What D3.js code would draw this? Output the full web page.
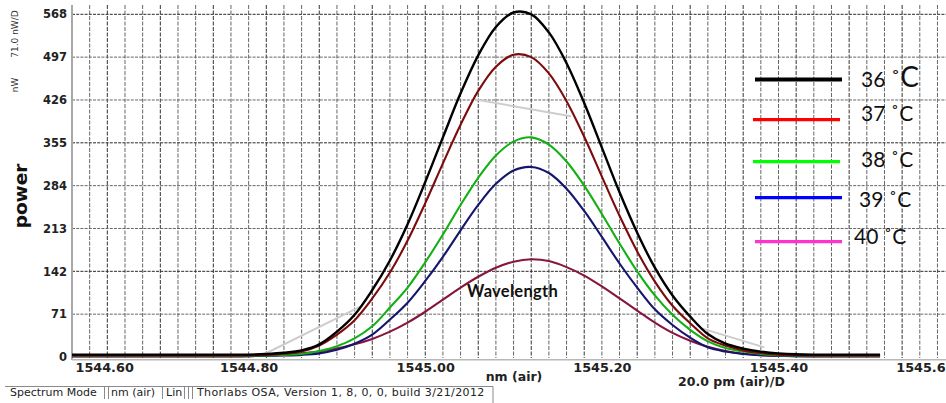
<!DOCTYPE html>
<html><head><meta charset="utf-8">
<script src="https://cdn.jsdelivr.net/npm/d3@7"></script>
<style>
html,body{margin:0;padding:0;background:#fff;overflow:hidden;}
svg{display:block;}
</style></head><body>
<svg id="chart" width="946" height="403"></svg>
<script>
// ---------------- data ----------------
const wavelength = [1544.60,1544.62,1544.64,1544.66,1544.68,1544.70,1544.72,1544.74,1544.76,1544.78,
  1544.80,1544.82,1544.84,1544.86,1544.88,1544.90,1544.92,1544.94,1544.96,1544.98,
  1545.00,1545.02,1545.04,1545.06,1545.08,1545.10,1545.12,1545.14,1545.16,1545.18,
  1545.20,1545.22,1545.24,1545.26,1545.28,1545.30,1545.32,1545.34,1545.36,1545.38,
  1545.40,1545.42,1545.44,1545.46,1545.48,1545.50,1545.515];
const power36 = [4,4,4,4,4,4,4,4,4,4,4,5,7,11,21,42,70,111,160,220,290,364,437,500,547,571,568,538,487,421,347,273,206,148,102,67,38,22,14,9,6,4.5,4,4,4,4,4];
const power37 = [2.5,2.5,2.5,2.5,2.5,2.5,2.5,2.5,2.5,2.5,2.5,3.5,5.5,9,19,37,61,97,140,193,255,321,385,441,481,501,497,470,424,365,299,234,175,125,85,56,31,19,11,6.5,4,3,2.5,2.5,2.5,2.5,2.5];
const power38 = [2,2,2,2,2,2,2,2,2,2,2,2.5,3.5,5,10,18,31,51,82,115,157,203,252,297,334,357,364,352,324,284,237,188,142,102,70,45,26,15,9,5,3,2.5,2,2,2,2,2];
const power39 = [1.5,1.5,1.5,1.5,1.5,1.5,1.5,1.5,1.5,1.5,1.5,2,2.5,3.5,6,12,22,37,62,90,126,166,210,252,287,309,315,305,279,242,199,155,115,79,53,32,16,9,5,3,2,1.5,1.5,1.5,1.5,1.5,1.5];
const power40 = [0.8,0.8,0.8,0.8,0.8,0.8,0.8,0.8,0.8,0.8,1.5,2.5,4,6,9,14,21,30,42,57,75,95,115,133,148,158,162,159,149,135,117,97,77,57,40,27,17,10,5.5,3,2,1.2,0.8,0.8,0.8,0.8,0.8];
const ghostWl  = [1544.818, 1544.927, null, 1545.056, 1545.165, null, 1545.314, 1545.384];
const ghostVal = [5, 84, null, 427, 399, null, 47, 16];
const seriesNames = ["36","37","38","39","40"];
const yTicks = [0,71,142,213,284,355,426,497,568];
const xTickValues = [1544.6,1544.8,1545.0,1545.2,1545.4,1545.6];
const xTickLabels = ["1544.60","1544.80","1545.00","1545.20","1545.40","1545.6"];

// ---------------- styling / layout ----------------
const curveColors  = ["#000000","#7e0b0b","#12b012","#15156e","#86163f"];
const curveWidths  = [2.4,2.1,2.1,2.1,2.1];
const legendColors = ["#000000","#ff0000","#00ff00","#0000ff","#ff33cc"];
const legendLayout = [
  {x1:755,x2:842,y:79.5,w:4,  tx:861,ty:87, cs:28},
  {x1:753,x2:840,y:119.7,w:3.3,tx:861,ty:121,cs:21},
  {x1:753,x2:840,y:161.7,w:3.3,tx:861,ty:167,cs:21},
  {x1:755,x2:842,y:197.7,w:3.3,tx:859,ty:207,cs:21},
  {x1:755,x2:842,y:241.7,w:3.3,tx:854,ty:244,cs:21}
];

const svg = d3.select("#chart");
const x = d3.scaleLinear().domain([1544.6, 1545.4]).range([72, 778.5]);
const y = d3.scaleLinear().domain([0, 568]).range([357, 14.3]);

// gridlines
const gridG = svg.append("g");
const vGrid = d3.range(1, 50).map(k => 1544.6 + 0.02 * k);
gridG.selectAll("line.v").data(vGrid).join("line")
  .attr("x1", d => x(d)).attr("x2", d => x(d))
  .attr("y1", 5).attr("y2", 358)
  .attr("stroke", (d,i) => (i % 3 === 1 ? "#333" : "#666"))
  .attr("stroke-width", 1)
  .attr("stroke-dasharray", "4,1.5");
gridG.selectAll("line.h").data(yTicks.filter(d => d > 0)).join("line")
  .attr("x1", 72).attr("x2", 946)
  .attr("y1", d => y(d)).attr("y2", d => y(d))
  .attr("stroke", (d,i) => (i % 3 === 1 ? "#2a2a2a" : "#666"))
  .attr("stroke-width", 1)
  .attr("stroke-dasharray", "3,1.2");

// axis lines
svg.append("line").attr("x1", 72).attr("x2", 72).attr("y1", 5).attr("y2", 360)
  .attr("stroke", "#a8a8a8").attr("stroke-width", 2);
svg.append("line").attr("x1", 72).attr("x2", 946).attr("y1", 359.8).attr("y2", 359.8)
  .attr("stroke", "#b8b8b8").attr("stroke-width", 1.4);

// y axis labels
const yAxis = d3.axisLeft(y).tickValues(yTicks).tickSize(0).tickPadding(5);
const yg = svg.append("g").attr("transform", "translate(72,0)").call(yAxis);
yg.select(".domain").remove();
yg.selectAll("text").attr("font-family", "DejaVu Sans").attr("font-weight", "bold")
  .attr("font-size", 11.5).attr("fill", "#222");

// x axis labels
const xAxis = d3.axisBottom(x).tickValues(xTickValues)
  .tickFormat((d, i) => xTickLabels[i]).tickSize(0);
const xg = svg.append("g").attr("transform", "translate(0,360)").call(xAxis);
xg.select(".domain").remove();
xg.selectAll("text").attr("dy", null).attr("y", 12)
  .attr("font-family", "DejaVu Sans").attr("font-weight", "bold")
  .attr("font-size", 12.8).attr("fill", "#222")
  .attr("text-anchor", (d, i) => i === 0 ? "start" : (i === xTickValues.length - 1 ? "end" : "middle"))
  .attr("x", (d, i) => i === 0 ? 3 : (i === xTickValues.length - 1 ? -10 : 0));

// axis titles
svg.append("text").attr("x", 514).attr("y", 381).attr("text-anchor", "middle")
  .attr("font-family", "DejaVu Sans").attr("font-weight", "bold").attr("font-size", 12.5)
  .attr("fill", "#222").text("nm (air)");
svg.append("text").attr("x", 678).attr("y", 386)
  .attr("font-family", "DejaVu Sans").attr("font-weight", "bold").attr("font-size", 12.5)
  .attr("fill", "#222").text("20.0 pm (air)/D");
svg.append("text").attr("transform", "translate(27,196) rotate(-90)").attr("text-anchor", "middle")
  .attr("font-family", "DejaVu Sans").attr("font-weight", "bold").attr("font-size", 18.5)
  .attr("fill", "#111").text("power");
svg.append("text").attr("transform", "translate(18,34) rotate(-90)").attr("text-anchor", "middle")
  .attr("font-family", "DejaVu Sans").attr("font-size", 9).attr("fill", "#333").text("71.0 nW/D");
svg.append("text").attr("transform", "translate(18,85) rotate(-90)").attr("text-anchor", "middle")
  .attr("font-family", "DejaVu Sans").attr("font-size", 9).attr("fill", "#333").text("nW");

// ghost (grey) trace
const ghost = ghostWl.map((w, i) => [w, ghostVal[i]]);
svg.append("path").datum(ghost)
  .attr("fill", "none").attr("stroke", "#cdcdcd").attr("stroke-width", 2)
  .attr("d", d3.line().defined(d => d[0] !== null).x(d => x(d[0])).y(d => y(d[1])));

// spectral curves
const allSeries = [power36, power37, power38, power39, power40];
const line = d3.line().x((d, i) => x(wavelength[i])).y(d => y(d))
  .curve(d3.curveCatmullRom.alpha(0.5));
const order = [4, 3, 2, 1, 0];
svg.append("g").selectAll("path").data(order).join("path")
  .attr("fill", "none")
  .attr("stroke", k => curveColors[k])
  .attr("stroke-width", k => curveWidths[k])
  .attr("stroke-linejoin", "round")
  .attr("d", k => line(allSeries[k]));

// annotation
svg.append("text").attr("x", 467).attr("y", 297)
  .attr("font-family", "Lato").attr("font-weight", "bold").attr("font-size", 16.5)
  .attr("letter-spacing", 0.3).attr("fill", "#111").text("Wavelength");

// legend
const lg = svg.append("g");
seriesNames.forEach((name, i) => {
  const L = legendLayout[i];
  lg.append("line").attr("x1", L.x1).attr("x2", L.x2).attr("y1", L.y).attr("y2", L.y)
    .attr("stroke", legendColors[i]).attr("stroke-width", L.w);
  const t = lg.append("text").attr("x", L.tx).attr("y", L.ty)
    .attr("font-family", "Lato").attr("font-size", 21).attr("fill", "#111");
  t.append("tspan").text(name + " ");
  t.append("tspan").attr("font-size", L.cs === 28 ? 24 : 21).text("˚");
  t.append("tspan").attr("font-size", L.cs).text("C");
});

// status bar
const sb = svg.append("g");
sb.append("line").attr("x1", 5).attr("x2", 493).attr("y1", 386.5).attr("y2", 386.5)
  .attr("stroke", "#8a8a8a").attr("stroke-width", 1);
sb.append("line").attr("x1", 493).attr("x2", 493).attr("y1", 386.5).attr("y2", 403)
  .attr("stroke", "#8a8a8a").attr("stroke-width", 1);
[104.5, 108.5, 162.5, 184.5, 188.5, 192.5].forEach(px => {
  sb.append("line").attr("x1", px).attr("x2", px).attr("y1", 387).attr("y2", 399)
    .attr("stroke", "#8a8a8a").attr("stroke-width", 1);
});
const statusTexts = [["Spectrum Mode", 10, 0], ["nm (air)", 111, 0], ["Lin", 166, 0],
  ["Thorlabs OSA, Version 1, 8, 0, 0, build 3/21/2012", 197, 0.4]];
statusTexts.forEach(([s, px, ls]) => {
  sb.append("text").attr("x", px).attr("y", 395.5).attr("letter-spacing", ls)
    .attr("font-family", "DejaVu Sans").attr("font-size", 11).attr("fill", "#222").text(s);
});
</script>
</body></html>
